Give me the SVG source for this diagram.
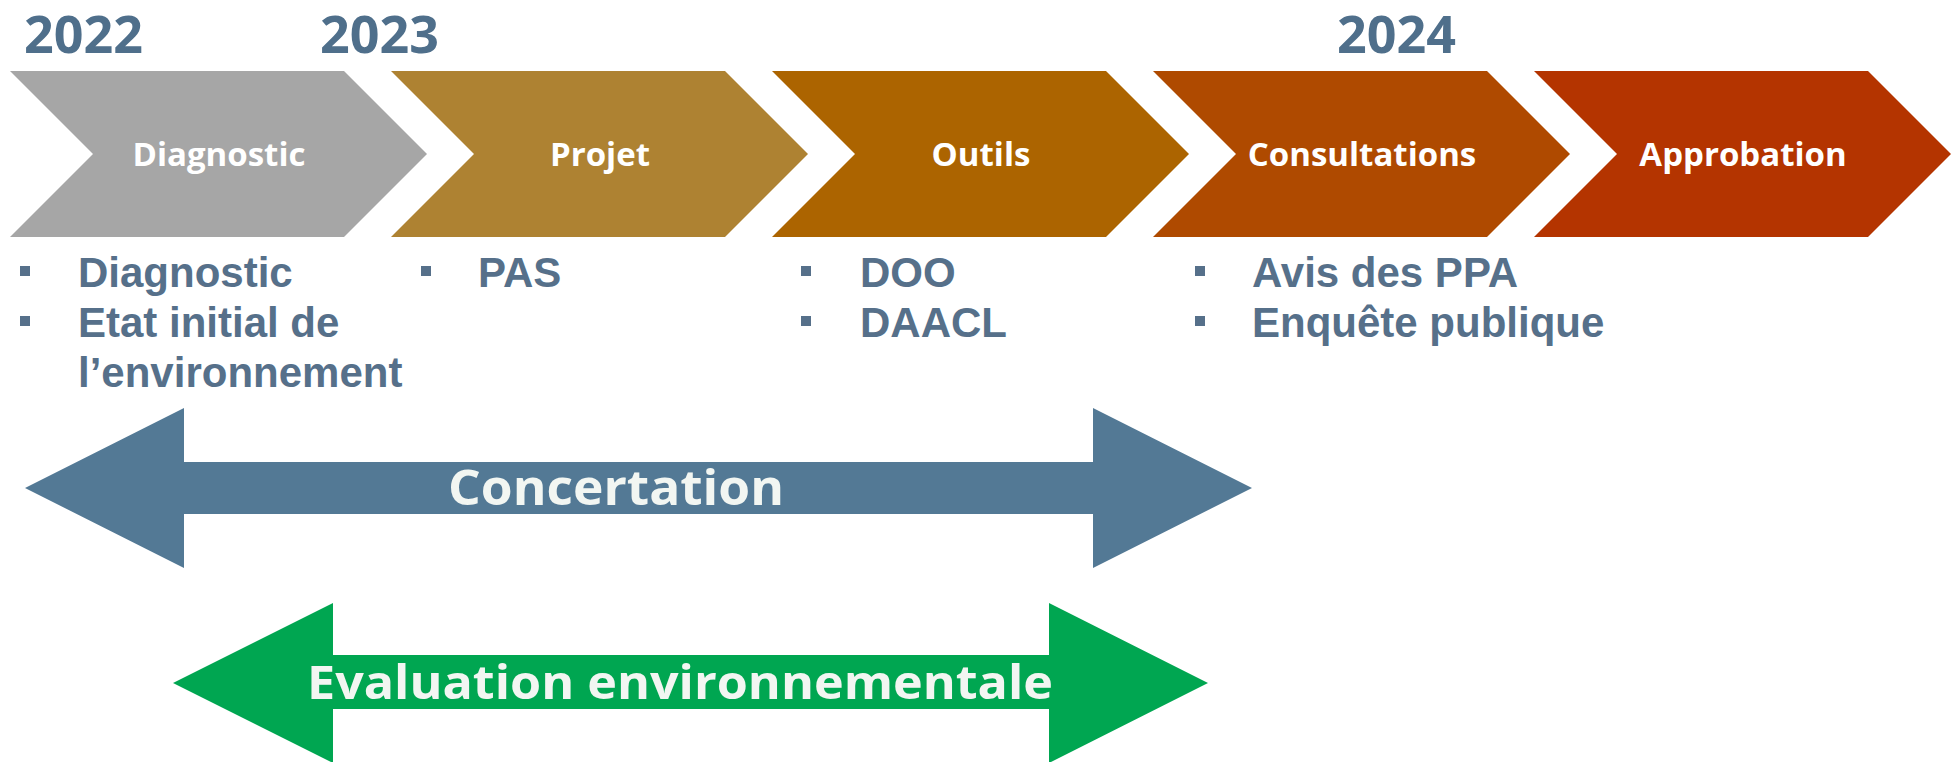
<svg xmlns="http://www.w3.org/2000/svg" width="1952" height="762" viewBox="0 0 1952 762">
<style>
.year{font-family:"Open Sans","Liberation Sans",sans-serif;font-weight:bold;font-size:52px;fill:#4F6F8B}
.chev-label{font-family:"Open Sans","Liberation Sans",sans-serif;font-weight:bold;font-size:33px;fill:#ffffff;text-anchor:middle}
.item{font-family:"Liberation Sans",Arial,sans-serif;font-weight:bold;font-size:42px;fill:#56708A}
.bullet{fill:#56708A}
.band-label{font-family:"Open Sans","Liberation Sans",sans-serif;font-weight:bold;fill:#F2F6F2;text-anchor:middle}
</style>
<defs>
<polygon id="chev" points="0,71 334,71 417,154 334,237 0,237 83,154"/>
</defs>
<rect width="1952" height="762" fill="#ffffff"/>
<g id="years">
<text class="year" x="24" y="53">2022</text>
<text class="year" x="320" y="53">2023</text>
<text class="year" x="1337" y="53">2024</text>
</g>
<g id="node-diagnostic">
<use href="#chev" x="10" fill="#A6A6A6"/>
<text class="chev-label" x="219" y="166">Diagnostic</text>
</g>
<g id="node-projet">
<use href="#chev" x="391" fill="#AE8232"/>
<text class="chev-label" x="600" y="166">Projet</text>
</g>
<g id="node-outils">
<use href="#chev" x="772" fill="#AC6400"/>
<text class="chev-label" x="981" y="166">Outils</text>
</g>
<g id="node-consultations">
<use href="#chev" x="1153" fill="#AF4A00"/>
<text class="chev-label" x="1362" y="166">Consultations</text>
</g>
<g id="node-approbation">
<use href="#chev" x="1534" fill="#B43400"/>
<text class="chev-label" x="1743" y="166">Approbation</text>
</g>
<g id="items-diagnostic">
<rect class="bullet" x="20" y="266" width="10" height="10"/>
<text class="item" x="78" y="287">Diagnostic</text>
<rect class="bullet" x="20" y="316" width="10" height="10"/>
<text class="item" x="78" y="337">Etat initial de</text>
<text class="item" x="78" y="387">l’environnement</text>
</g>
<g id="items-projet">
<rect class="bullet" x="421" y="266" width="10" height="10"/>
<text class="item" x="478" y="287">PAS</text>
</g>
<g id="items-outils">
<rect class="bullet" x="801" y="266" width="10" height="10"/>
<text class="item" x="860" y="287">DOO</text>
<rect class="bullet" x="801" y="316" width="10" height="10"/>
<text class="item" x="860" y="337">DAACL</text>
</g>
<g id="items-consultations">
<rect class="bullet" x="1195" y="266" width="10" height="10"/>
<text class="item" x="1252" y="287">Avis des PPA</text>
<rect class="bullet" x="1195" y="316" width="10" height="10"/>
<text class="item" x="1252" y="337">Enquête publique</text>
</g>
<g id="connectors">
<g id="concertation">
<polygon points="25,488 184,408 184,462 1093,462 1093,408 1252,488 1093,568 1093,514 184,514 184,568" fill="#537995"/>
<text class="band-label" x="616" y="505" font-size="48" textLength="336" lengthAdjust="spacingAndGlyphs">Concertation</text>
</g>
<g id="evaluation">
<polygon points="173,683 333,603 333,655 1049,655 1049,603 1208,683 1049,763 1049,709 333,709 333,763" fill="#00A651"/>
<text class="band-label" x="680" y="699" font-size="46" textLength="746" lengthAdjust="spacingAndGlyphs">Evaluation environnementale</text>
</g>
</g>
</svg>
